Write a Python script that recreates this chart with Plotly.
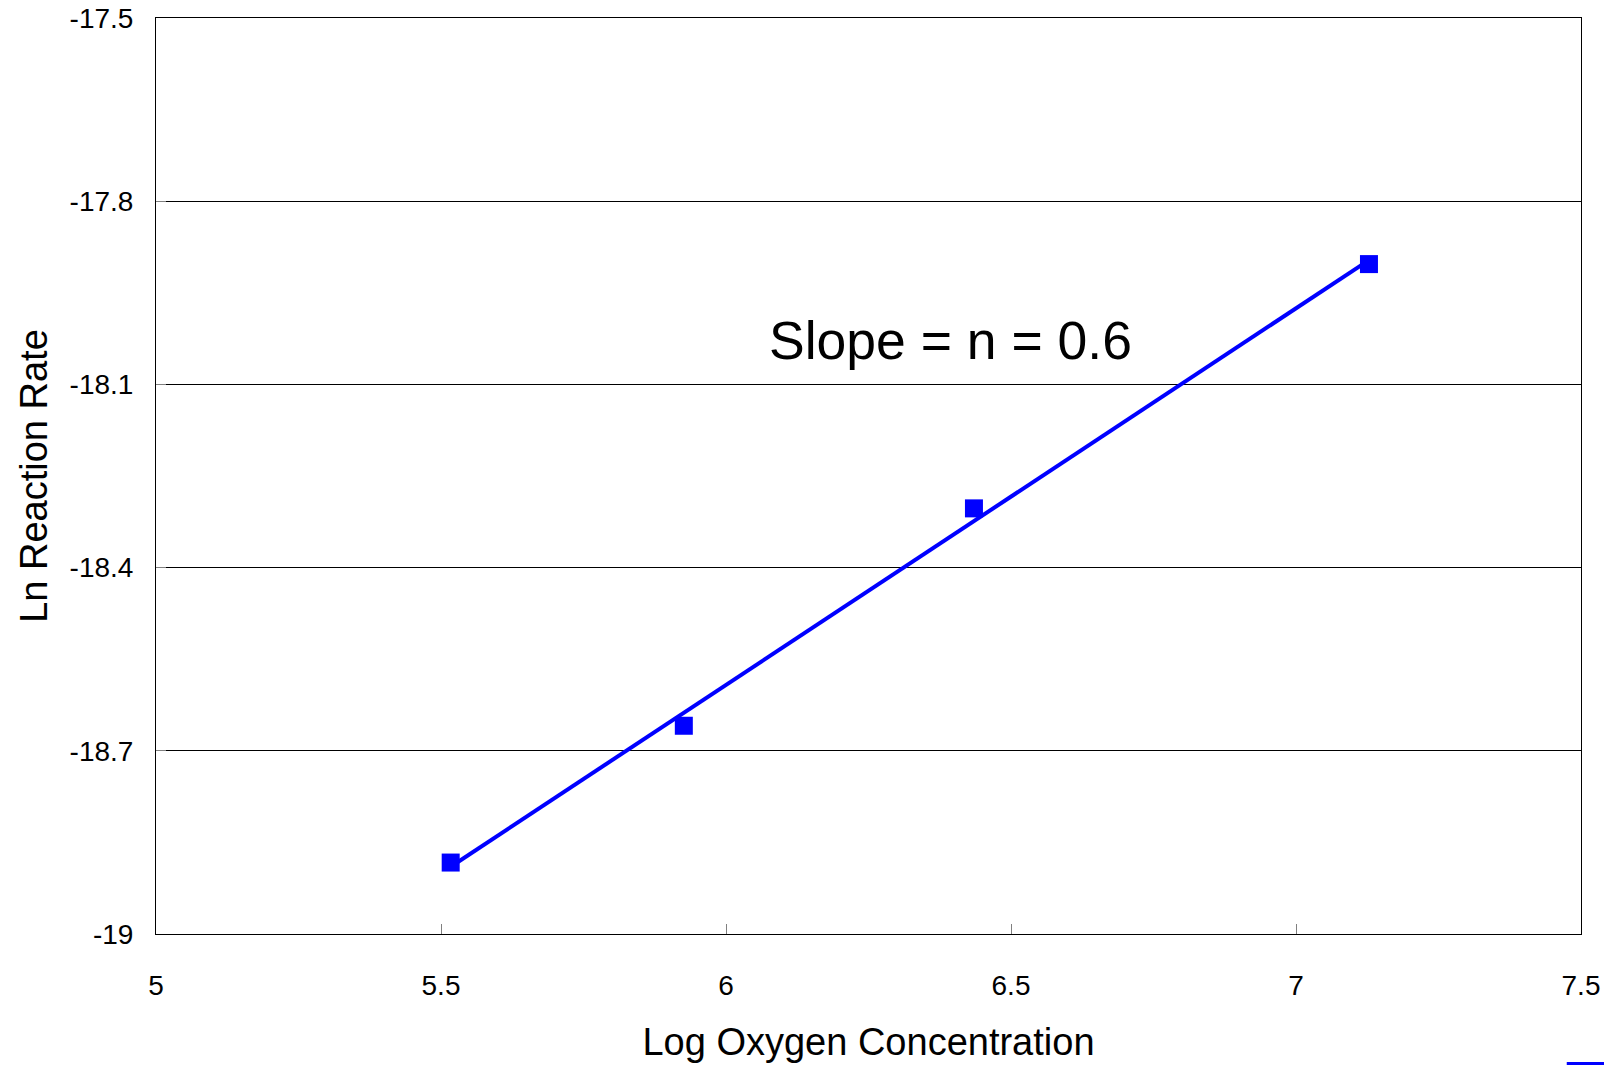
import numpy as np
import plotly.graph_objects as go

log_o2 = [5.517, 5.926, 6.435, 7.128]
ln_rate = [-18.883, -18.659, -18.303, -17.903]
x_ticks = [5, 5.5, 6, 6.5, 7, 7.5]
y_ticks = [-19, -18.7, -18.4, -18.1, -17.8, -17.5]
annotation_text = "Slope = n = 0.6"

coef = np.polyfit(log_o2, ln_rate, 1)
fit_x = [min(log_o2), max(log_o2)]
fit_y = [coef[0] * v + coef[1] for v in fit_x]

FONT = "Liberation Sans, Arial, sans-serif"
BLUE = "#0000FF"

fig = go.Figure()
fig.add_trace(go.Scatter(x=fit_x, y=fit_y, mode="lines",
                         line=dict(color=BLUE, width=4), showlegend=False,
                         hoverinfo="skip"))
fig.add_trace(go.Scatter(x=log_o2, y=ln_rate, mode="markers", name="Series1",
                         marker=dict(symbol="square", size=18, color=BLUE),
                         showlegend=False))

fig.add_annotation(x=6.393, y=-18.028, xref="x", yref="y", text=annotation_text,
                   showarrow=False, font=dict(family=FONT, size=53.5, color="black"),
                   xanchor="center", yanchor="middle")

# clipped legend fragment at bottom-right corner of the page
fig.add_shape(type="rect", xref="paper", yref="paper",
              x0=0.990, x1=1.03, y0=-0.1397, y1=-0.16,
              fillcolor=BLUE, line=dict(width=0), layer="above")

fig.update_layout(
    width=1612, height=1065,
    margin=dict(l=148, r=39, t=10, b=139, autoexpand=False),
    paper_bgcolor="white", plot_bgcolor="white",
    font=dict(family=FONT, color="black"),
    showlegend=False,
)
fig.update_xaxes(range=[5, 7.5], tickvals=x_ticks, ticktext=[f"{v:g}" for v in x_ticks],
                 showgrid=False, zeroline=False, automargin=False,
                 showline=True, linecolor="black", linewidth=1, mirror=True,
                 ticks="inside", ticklen=10, tickcolor="#808080",
                 tickfont=dict(family=FONT, size=28, color="black"),
                 ticklabelstandoff=26, ticklabeloverflow="allow",
                 title=dict(text="Log Oxygen Concentration",
                            font=dict(family=FONT, size=38, color="black"), standoff=28))
fig.update_yaxes(range=[-19, -17.5], tickvals=y_ticks, ticktext=[f"{v:g}" for v in y_ticks],
                 showgrid=True, gridcolor="black", gridwidth=1, zeroline=False, automargin=False,
                 showline=True, linecolor="black", linewidth=1, mirror=True,
                 ticks="inside", ticklen=10, tickcolor="#808080",
                 tickfont=dict(family=FONT, size=28, color="black"),
                 ticklabelstandoff=16, ticklabeloverflow="allow",
                 title=dict(text="Ln Reaction Rate",
                            font=dict(family=FONT, size=38, color="black"), standoff=10))

fig.write_html("out.html")
